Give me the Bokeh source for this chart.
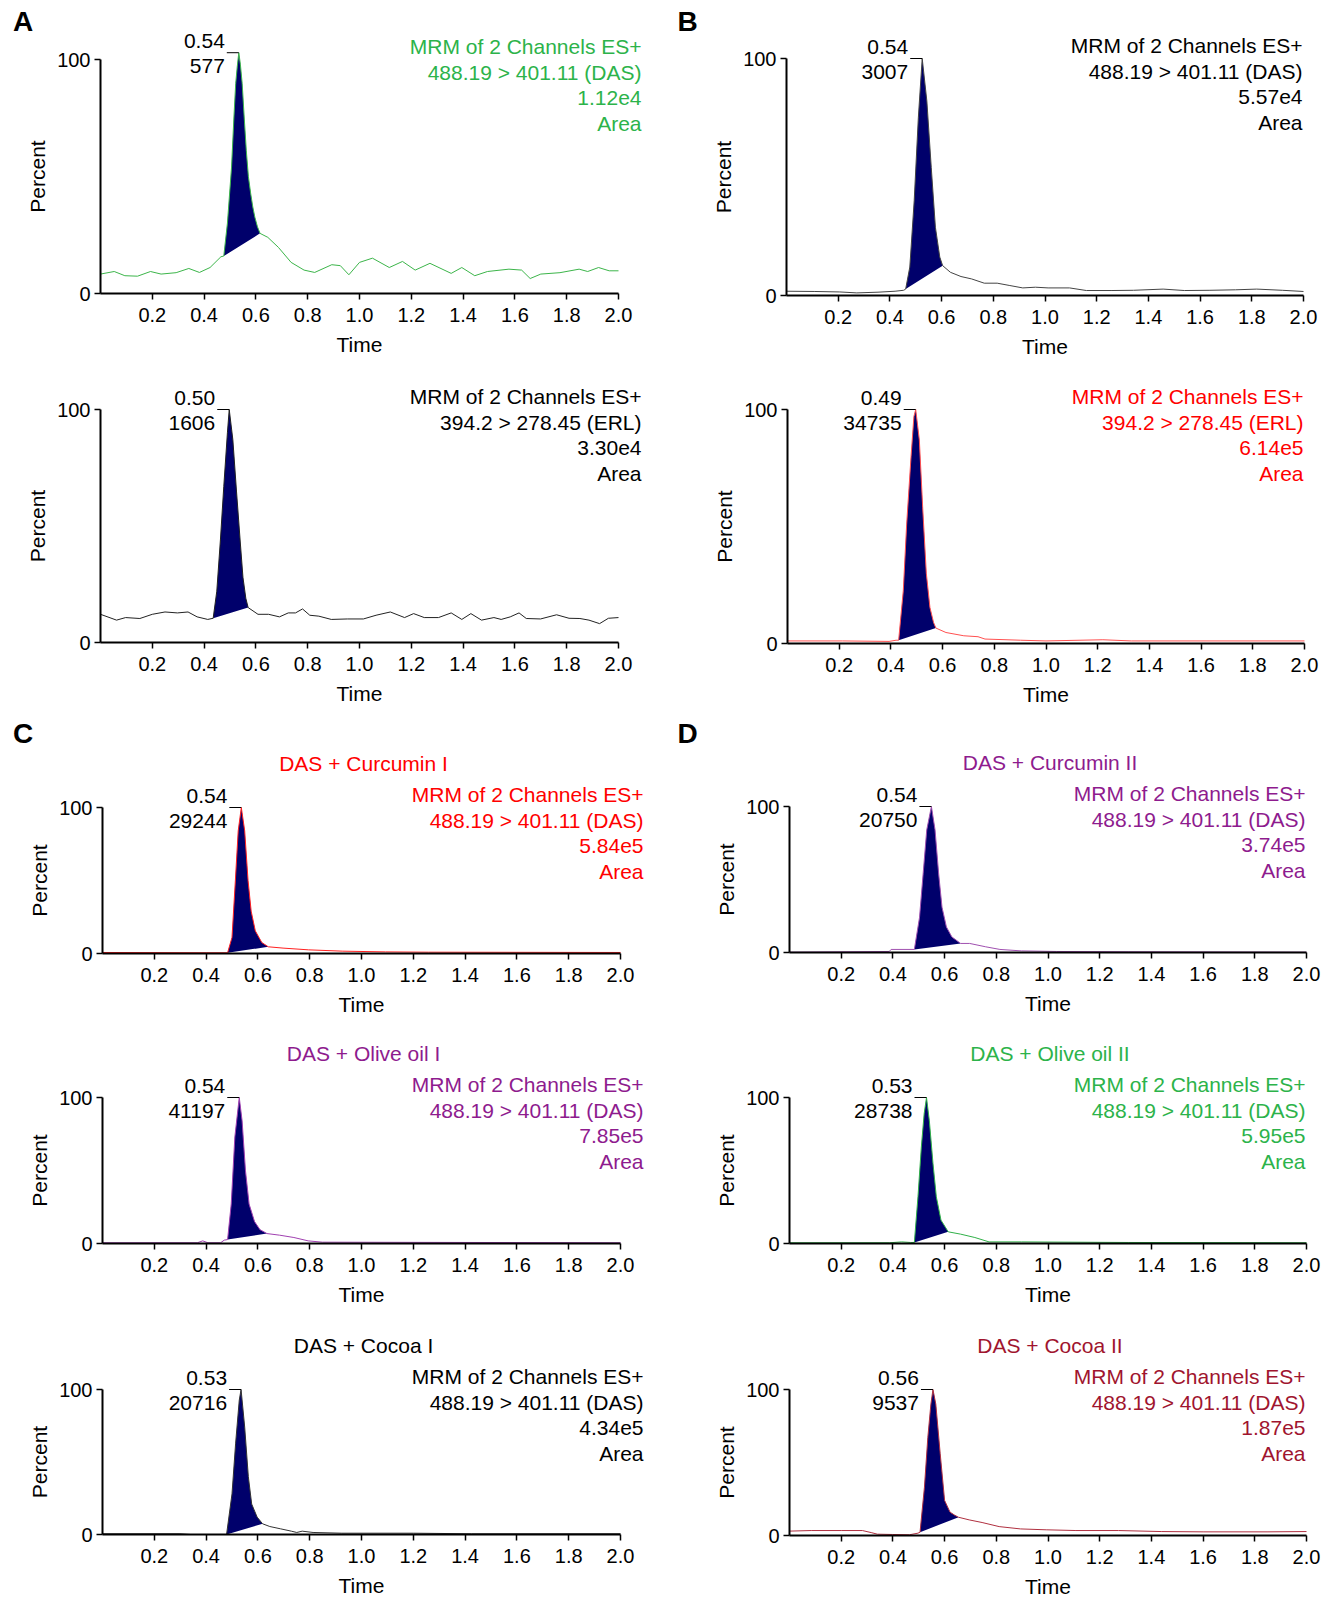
from bokeh.plotting import figure
from bokeh.layouts import column, row
from bokeh.models import Range1d, FixedTicker, PrintfTickFormatter, Label
from bokeh.embed import file_html
from bokeh.resources import INLINE

FONT = "Liberation Sans"
NAVY = "#00006b"
GREEN = "#2cb34a"
RED = "#ff0000"
PURPLE = "#8e1b8e"
DARKRED = "#a0142e"
BLACK = "#000000"

# ---------------- data ----------------
x_ticks = [0.2, 0.4, 0.6, 0.8, 1.0, 1.2, 1.4, 1.6, 1.8, 2.0]
y_ticks = [0, 100]

a1_time = [0, 0.053, 0.094, 0.143, 0.193, 0.234, 0.292, 0.341, 0.382, 0.423, 0.465, 0.476, 0.49, 0.506, 0.515,
           0.522, 0.528, 0.534, 0.540, 0.547, 0.555, 0.563, 0.571, 0.580, 0.588, 0.596, 0.606, 0.616, 0.646, 0.687,
           0.736, 0.786, 0.827, 0.893, 0.926, 0.959, 1.0, 1.05, 1.115, 1.166, 1.215, 1.272, 1.354, 1.395, 1.445,
           1.494, 1.577, 1.626, 1.659, 1.700, 1.774, 1.848, 1.881, 1.923, 1.964, 2.0]
a1_pct = [8.3, 9.4, 7.6, 7.4, 9.4, 8.3, 8.9, 10.7, 9.0, 11.1, 15.7, 16.0, 30, 54, 75,
          89.7, 97, 102.9, 98, 89.7, 75, 61, 50, 42.6, 37, 32.6, 28.5, 25.7, 24, 19.7,
          13.3, 10, 9, 12.3, 11.9, 8, 13.3, 15.1, 11.1, 13.7, 10, 12.9, 8.6, 11.1, 7.6,
          9.4, 10.4, 10, 6.4, 8.3, 8.9, 10.4, 9.4, 11.1, 9.7, 9.7]

a2_time = [0, 0.062, 0.097, 0.152, 0.2, 0.249, 0.297, 0.338, 0.373, 0.414, 0.435, 0.449, 0.463, 0.476, 0.490,
           0.497, 0.511, 0.525, 0.539, 0.550, 0.561, 0.570, 0.608, 0.649, 0.691, 0.725, 0.753, 0.780, 0.808,
           0.843, 0.891, 0.953, 1.015, 1.064, 1.119, 1.174, 1.209, 1.250, 1.305, 1.354, 1.395, 1.430, 1.471,
           1.519, 1.547, 1.582, 1.616, 1.644, 1.699, 1.761, 1.809, 1.851, 1.886, 1.927, 1.961, 2.0]
a2_pct = [12.1, 9.6, 10.7, 10.3, 12.1, 13.1, 12.7, 13.1, 11.0, 9.9, 10.4, 22, 44, 67, 90,
          100, 87, 65, 44, 28, 19, 15, 12.1, 12.1, 11, 12.7, 12.7, 14.4, 11.7,
          11.3, 9.9, 10.1, 10.1, 11.7, 13.1, 10.7, 12.4, 10.7, 10.7, 12.7, 9.9, 12.4, 9.6,
          10.7, 9.9, 11, 12.7, 10.3, 10.1, 11.9, 10.4, 10.3, 9.6, 8.1, 10.4, 10.7]

b1_time = [0.0, 0.107, 0.206, 0.272, 0.354, 0.42, 0.453, 0.461, 0.477, 0.494, 0.510, 0.525, 0.543, 0.560, 0.576,
           0.593, 0.604, 0.634, 0.675, 0.716, 0.765, 0.815, 0.864, 0.914, 0.963, 1.012, 1.095, 1.160, 1.259,
           1.342, 1.457, 1.539, 1.638, 1.737, 1.819, 1.918, 2.0]
b1_pct = [1.8, 1.7, 1.5, 1.1, 1.4, 1.8, 2.2, 2.7, 12, 40, 75, 100, 82, 54, 28.8,
          16.2, 12.6, 9.8, 8, 7, 5.2, 5.2, 4.2, 3.2, 3.5, 3.2, 3.2, 2.1, 2.1,
          2.2, 2.7, 2.1, 2.2, 2.4, 2.7, 2.2, 1.7]

b2_time = [0, 0.213, 0.393, 0.42, 0.43, 0.448, 0.461, 0.478, 0.489, 0.496, 0.51, 0.523, 0.537, 0.551, 0.565,
           0.574, 0.613, 0.682, 0.737, 0.764, 0.902, 1.0, 1.22, 1.33, 2.0]
b2_pct = [1.1, 1.1, 0.9, 1.4, 1.4, 22.6, 51, 80, 97, 100, 87, 58, 30, 15.4, 9,
          6.6, 4.7, 3.3, 2.9, 1.9, 1.4, 1.1, 1.6, 1.1, 1.1]

c1_time = [0, 0.4, 0.483, 0.5, 0.513, 0.524, 0.536, 0.549, 0.562, 0.574, 0.590, 0.615, 0.640, 0.697, 0.796,
           0.928, 1.093, 1.258, 2.0]
c1_pct = [0.7, 0.5, 0.5, 11, 50, 84, 100, 84, 50, 29, 15.5, 7.5, 4.6, 3.7, 2.5,
          1.6, 1.1, 0.9, 0.7]

c2_time = [0, 0.366, 0.387, 0.407, 0.456, 0.470, 0.483, 0.497, 0.511, 0.528, 0.539, 0.552, 0.566, 0.587, 0.608,
           0.635, 0.684, 0.739, 0.794, 0.849, 2.0]
c2_pct = [0.5, 0.5, 1.8, 0.5, 0.5, 2.3, 2.7, 27, 73, 100, 84, 50, 27, 15, 9.5,
          6.8, 5.7, 4.1, 1.8, 0.9, 0.5]

c3_time = [0, 0.299, 0.34, 0.479, 0.5, 0.514, 0.528, 0.535, 0.549, 0.563, 0.576, 0.597, 0.618, 0.646, 0.688,
           0.729, 0.75, 0.771, 0.813, 0.924, 1.2, 1.424, 2.0]
c3_pct = [0.5, 0.5, 0, 0, 28, 63, 92.6, 100, 74, 40, 21, 12, 7.4, 5.5, 3.9,
          2.3, 1.4, 2.3, 1.4, 0.9, 0.9, 0.5, 0.5]

d1_time = [0, 0.386, 0.393, 0.483, 0.503, 0.517, 0.531, 0.549, 0.563, 0.577, 0.590, 0.607, 0.628, 0.662, 0.697,
           0.759, 0.814, 0.897, 1.034, 1.31, 2.0]
d1_pct = [0.2, 0.7, 2.1, 2.1, 24, 54, 84, 100, 84, 54, 31, 17.5, 10.7, 6.2, 6.2,
          3.9, 2.1, 1.1, 0.7, 0.5, 0.2]

d2_time = [0, 0.386, 0.434, 0.469, 0.483, 0.497, 0.510, 0.521, 0.530, 0.541, 0.555, 0.568, 0.586, 0.614, 0.662,
           0.717, 0.772, 0.897, 1.31, 2.0]
d2_pct = [0.5, 0.5, 1.1, 0.7, 0.7, 32, 66, 89, 100, 84, 55, 32, 16, 8, 6.4,
          4.1, 1.1, 1.1, 0.7, 0.5]

d3_time = [0, 0.084, 0.2, 0.282, 0.316, 0.340, 0.398, 0.464, 0.497, 0.505, 0.522, 0.535, 0.547, 0.555, 0.566,
           0.583, 0.6, 0.621, 0.638, 0.654, 0.695, 0.745, 0.811, 0.894, 0.993, 1.108, 1.273, 1.438, 1.603,
           1.851, 2.0]
d3_pct = [3.0, 3.4, 3.4, 3.4, 2.0, 0.9, 0.7, 0.5, 1.6, 2.3, 33, 67, 90, 100, 90,
          56, 24, 16, 14, 12.5, 10.7, 8.9, 6.1, 4.5, 3.9, 3.4, 3.4, 2.7, 2.5,
          2.5, 2.7]

# integrated peak limits (start, end)
peak_limits = {
    "A1": (0.476, 0.616), "A2": (0.435, 0.570), "B1": (0.461, 0.604), "B2": (0.43, 0.574),
    "C1": (0.483, 0.640), "C2": (0.483, 0.635), "C3": (0.479, 0.618),
    "D1": (0.483, 0.662), "D2": (0.483, 0.614), "D3": (0.505, 0.654),
}
peak_rt = {"A1": "0.54", "A2": "0.50", "B1": "0.54", "B2": "0.49", "C1": "0.54",
           "C2": "0.54", "C3": "0.53", "D1": "0.54", "D2": "0.53", "D3": "0.56"}
peak_height = {"A1": "577", "A2": "1606", "B1": "3007", "B2": "34735", "C1": "29244",
               "C2": "41197", "C3": "20716", "D1": "20750", "D2": "28738", "D3": "9537"}
das = "488.19 > 401.11 (DAS)"
erl = "394.2 > 278.45 (ERL)"
channel = {"A1": das, "A2": erl, "B1": das, "B2": erl, "C1": das, "C2": das, "C3": das,
           "D1": das, "D2": das, "D3": das}
area_value = {"A1": "1.12e4", "A2": "3.30e4", "B1": "5.57e4", "B2": "6.14e5", "C1": "5.84e5",
              "C2": "7.85e5", "C3": "4.34e5", "D1": "3.74e5", "D2": "5.95e5", "D3": "1.87e5"}
titles = {"C1": "DAS + Curcumin I", "C2": "DAS + Olive oil I", "C3": "DAS + Cocoa I",
          "D1": "DAS + Curcumin II", "D2": "DAS + Olive oil II", "D3": "DAS + Cocoa II"}

# ---------------- layout ----------------
XMAX = 2.0
TXT = "21px"


def make_panel(key, t, pct, text_color, line_color, title_color, letter, letter_xy,
               fig_left, fig_w, row_top, row_h, fl, fr, y100, y0, text_right):
    kx = (fr - fl) / XMAX          # px per minute
    ky = (y0 - y100) / 100.0       # px per percent
    xr = Range1d((fig_left - fl) / kx, (fig_left + fig_w - fl) / kx)
    yr = Range1d((y0 - (row_top + row_h)) / ky, (y0 - row_top) / ky)

    def dx(px):
        return px / kx

    def dy(px):
        return px / ky

    p = figure(width=fig_w, height=row_h, x_range=xr, y_range=yr,
               min_border=0, min_border_left=0, min_border_right=0, min_border_top=0, min_border_bottom=0,
               toolbar_location=None, output_backend="svg", tools="", title=None)
    p.outline_line_color = None
    p.grid.visible = False
    p.background_fill_color = "white"
    p.border_fill_color = "white"

    p.xaxis.ticker = FixedTicker(ticks=x_ticks)
    p.xaxis.formatter = PrintfTickFormatter(format="%.1f")
    p.yaxis.ticker = FixedTicker(ticks=y_ticks)
    p.yaxis.formatter = PrintfTickFormatter(format="%d")
    p.xaxis.fixed_location = 0
    p.yaxis.fixed_location = 0
    p.xaxis.bounds = (0, XMAX)
    p.yaxis.bounds = (0, 100)
    p.xaxis.axis_label = "Time"
    p.yaxis.axis_label = "Percent"
    for ax in (p.xaxis[0], p.yaxis[0]):
        ax.axis_line_color = "black"
        ax.axis_line_width = 2
        ax.major_tick_line_color = "black"
        ax.major_tick_line_width = 1.5
        ax.major_tick_out = 6
        ax.major_tick_in = 0
        ax.minor_tick_line_color = None
        ax.major_label_text_font = FONT
        ax.major_label_text_font_size = "20px"
        ax.major_label_text_color = "black"
        ax.axis_label_text_font = FONT
        ax.axis_label_text_font_size = TXT
        ax.axis_label_text_font_style = "normal"
        ax.axis_label_text_color = "black"
    p.xaxis.major_label_standoff = 8
    p.xaxis.axis_label_standoff = 8
    p.yaxis.major_label_standoff = 4
    p.yaxis.axis_label_standoff = 5

    # integrated peak (navy area with straight baseline)
    s, e = peak_limits[key]
    px_ = [tt for tt in t if s - 1e-9 <= tt <= e + 1e-9]
    py_ = [pp for tt, pp in zip(t, pct) if s - 1e-9 <= tt <= e + 1e-9]
    p.patch(px_, py_, fill_color=NAVY, line_color=None)
    p.line(t, pct, line_color=line_color, line_width=1)

    # apex annotation
    i_ap = max(range(len(pct)), key=lambda i: pct[i])
    t_ap, p_ap = t[i_ap], pct[i_ap]
    p.segment(x0=[t_ap - dx(12)], y0=[p_ap], x1=[t_ap], y1=[p_ap], line_color="black", line_width=1)
    common = dict(text_font=FONT, text_font_size=TXT, text_baseline="middle")
    p.add_layout(Label(x=t_ap - dx(14), y=p_ap + dy(12), text=peak_rt[key], text_align="right",
                       text_color="black", **common))
    p.add_layout(Label(x=t_ap - dx(14), y=p_ap - dy(13), text=peak_height[key], text_align="right",
                       text_color="black", **common))

    # channel description block
    lines = ["MRM of 2 Channels ES+", channel[key], area_value[key], "Area"]
    offs = [13, -12.5, -38, -63.5]
    for txt, o in zip(lines, offs):
        p.add_layout(Label(x=XMAX + dx(text_right), y=100 + dy(o), text=txt, text_align="right",
                           text_color=text_color, **common))

    if key in titles:
        p.add_layout(Label(x=XMAX / 2 + dx(2), y=100 + dy(44), text=titles[key], text_align="center",
                           text_color=title_color, **common))
    if letter:
        sx, sy = letter_xy
        p.add_layout(Label(x=(sx - fl) / kx, y=(y0 - sy) / ky, text=letter, text_align="center",
                           text_baseline="middle", text_font=FONT, text_font_size="28px",
                           text_font_style="bold", text_color="black"))
    return p


L0, LW = 0, 660
R0, RW = 660, 670
pA1 = make_panel("A1", a1_time, a1_pct, GREEN, "#3cb54a", None, "A", (22.5, 21), L0, LW, 0, 365, 100, 618, 59, 293, 23)
pB1 = make_panel("B1", b1_time, b1_pct, BLACK, "#444444", None, "B", (687, 21), R0, RW, 0, 365, 786, 1303, 58, 295, -1)
pA2 = make_panel("A2", a2_time, a2_pct, BLACK, "#222222", None, None, None, L0, LW, 365, 347, 100, 618, 409, 642, 23)
pB2 = make_panel("B2", b2_time, b2_pct, RED, "#ff5050", None, None, None, R0, RW, 365, 347, 787, 1304, 409, 643, -1)
pC1 = make_panel("C1", c1_time, c1_pct, RED, "#ff2020", RED, "C", (22.5, 733), L0, LW, 712, 318, 102, 620, 807, 953, 23)
pD1 = make_panel("D1", d1_time, d1_pct, PURPLE, "#a050b0", PURPLE, "D", (687, 733), R0, RW, 712, 318, 789, 1306, 806, 952, -1)
pC2 = make_panel("C2", c2_time, c2_pct, PURPLE, "#a040b0", PURPLE, None, None, L0, LW, 1030, 290, 102, 620, 1097, 1243, 23)
pD2 = make_panel("D2", d2_time, d2_pct, GREEN, "#30b048", GREEN, None, None, R0, RW, 1030, 290, 789, 1306, 1097, 1243, -1)
pC3 = make_panel("C3", c3_time, c3_pct, BLACK, "#333333", BLACK, None, None, L0, LW, 1320, 280, 102, 620, 1389, 1534, 23)
pD3 = make_panel("D3", d3_time, d3_pct, DARKRED, "#b03040", DARKRED, None, None, R0, RW, 1320, 280, 789, 1306, 1389, 1535, -1)

layout = column(row(pA1, pB1), row(pA2, pB2), row(pC1, pD1), row(pC2, pD2), row(pC3, pD3))
open("out.html", "w").write(file_html(layout, INLINE))
